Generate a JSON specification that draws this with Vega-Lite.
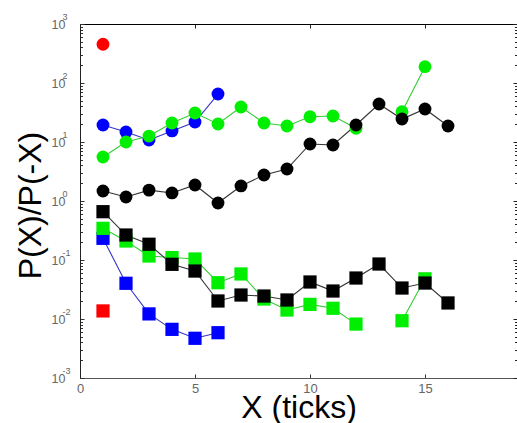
{
  "$schema": "https://vega.github.io/schema/vega-lite/v6.json",
  "autosize": {"type": "none"},
  "padding": {"left": 80, "top": 24, "right": 0, "bottom": 45},
  "width": 437,
  "height": 354,
  "background": "white",
  "config": {
    "font": "Liberation Sans",
    "view": {"stroke": null},
    "axis": {"grid": false, "labelFont": "Liberation Sans", "titleFont": "Liberation Sans", "titleFontWeight": "normal", "titleColor": "black", "labelColor": "#666666"}
  },
  "data": {
    "values": [
      {"x": 1, "y": 453, "series": "red", "marker": "circle"},
      {"x": 1, "y": 0.0137, "series": "red", "marker": "square"},
      {"x": 1, "y": 19.4, "series": "blue", "marker": "circle"},
      {"x": 2, "y": 14.8, "series": "blue", "marker": "circle"},
      {"x": 3, "y": 10.8, "series": "blue", "marker": "circle"},
      {"x": 4, "y": 15.4, "series": "blue", "marker": "circle"},
      {"x": 5, "y": 21.8, "series": "blue", "marker": "circle"},
      {"x": 6, "y": 65, "series": "blue", "marker": "circle"},
      {"x": 1, "y": 0.233, "series": "blue", "marker": "square"},
      {"x": 2, "y": 0.0403, "series": "blue", "marker": "square"},
      {"x": 3, "y": 0.0122, "series": "blue", "marker": "square"},
      {"x": 4, "y": 0.00668, "series": "blue", "marker": "square"},
      {"x": 5, "y": 0.00471, "series": "blue", "marker": "square"},
      {"x": 6, "y": 0.00586, "series": "blue", "marker": "square"},
      {"x": 1, "y": 5.57, "series": "green", "marker": "circle"},
      {"x": 2, "y": 10, "series": "green", "marker": "circle"},
      {"x": 3, "y": 12.6, "series": "green", "marker": "circle"},
      {"x": 4, "y": 21, "series": "green", "marker": "circle"},
      {"x": 5, "y": 31, "series": "green", "marker": "circle"},
      {"x": 6, "y": 20.2, "series": "green", "marker": "circle"},
      {"x": 7, "y": 39.2, "series": "green", "marker": "circle"},
      {"x": 8, "y": 21, "series": "green", "marker": "circle"},
      {"x": 9, "y": 18.7, "series": "green", "marker": "circle"},
      {"x": 10, "y": 26.8, "series": "green", "marker": "circle"},
      {"x": 11, "y": 27.6, "series": "green", "marker": "circle"},
      {"x": 12, "y": 17.1, "series": "green", "marker": "circle"},
      {"x": 13, "y": null, "series": "green", "marker": "circle"},
      {"x": 14, "y": 32.6, "series": "green", "marker": "circle"},
      {"x": 15, "y": 189, "series": "green", "marker": "circle"},
      {"x": 1, "y": 0.344, "series": "green", "marker": "square"},
      {"x": 2, "y": 0.21, "series": "green", "marker": "square"},
      {"x": 3, "y": 0.117, "series": "green", "marker": "square"},
      {"x": 4, "y": 0.11, "series": "green", "marker": "square"},
      {"x": 5, "y": 0.104, "series": "green", "marker": "square"},
      {"x": 6, "y": 0.0412, "series": "green", "marker": "square"},
      {"x": 7, "y": 0.058, "series": "green", "marker": "square"},
      {"x": 8, "y": 0.0218, "series": "green", "marker": "square"},
      {"x": 9, "y": 0.0142, "series": "green", "marker": "square"},
      {"x": 10, "y": 0.0177, "series": "green", "marker": "square"},
      {"x": 11, "y": 0.0152, "series": "green", "marker": "square"},
      {"x": 12, "y": 0.0082, "series": "green", "marker": "square"},
      {"x": 13, "y": null, "series": "green", "marker": "square"},
      {"x": 14, "y": 0.00935, "series": "green", "marker": "square"},
      {"x": 15, "y": 0.048, "series": "green", "marker": "square"},
      {"x": 1, "y": 1.48, "series": "black", "marker": "circle"},
      {"x": 2, "y": 1.17, "series": "black", "marker": "circle"},
      {"x": 3, "y": 1.53, "series": "black", "marker": "circle"},
      {"x": 4, "y": 1.37, "series": "black", "marker": "circle"},
      {"x": 5, "y": 1.87, "series": "black", "marker": "circle"},
      {"x": 6, "y": 0.925, "series": "black", "marker": "circle"},
      {"x": 7, "y": 1.8, "series": "black", "marker": "circle"},
      {"x": 8, "y": 2.76, "series": "black", "marker": "circle"},
      {"x": 9, "y": 3.48, "series": "black", "marker": "circle"},
      {"x": 10, "y": 9.25, "series": "black", "marker": "circle"},
      {"x": 11, "y": 8.9, "series": "black", "marker": "circle"},
      {"x": 12, "y": 19.4, "series": "black", "marker": "circle"},
      {"x": 13, "y": 44, "series": "black", "marker": "circle"},
      {"x": 14, "y": 24.5, "series": "black", "marker": "circle"},
      {"x": 15, "y": 36.3, "series": "black", "marker": "circle"},
      {"x": 16, "y": 18.7, "series": "black", "marker": "circle"},
      {"x": 1, "y": 0.659, "series": "black", "marker": "square"},
      {"x": 2, "y": 0.265, "series": "black", "marker": "square"},
      {"x": 3, "y": 0.185, "series": "black", "marker": "square"},
      {"x": 4, "y": 0.0845, "series": "black", "marker": "square"},
      {"x": 5, "y": 0.065, "series": "black", "marker": "square"},
      {"x": 6, "y": 0.0202, "series": "black", "marker": "square"},
      {"x": 7, "y": 0.0255, "series": "black", "marker": "square"},
      {"x": 8, "y": 0.0245, "series": "black", "marker": "square"},
      {"x": 9, "y": 0.021, "series": "black", "marker": "square"},
      {"x": 10, "y": 0.0424, "series": "black", "marker": "square"},
      {"x": 11, "y": 0.0298, "series": "black", "marker": "square"},
      {"x": 12, "y": 0.0495, "series": "black", "marker": "square"},
      {"x": 13, "y": 0.0855, "series": "black", "marker": "square"},
      {"x": 14, "y": 0.0335, "series": "black", "marker": "square"},
      {"x": 15, "y": 0.0407, "series": "black", "marker": "square"},
      {"x": 16, "y": 0.0187, "series": "black", "marker": "square"}
    ]
  },
  "resolve": {"axis": {"x": "independent", "y": "independent"}, "scale": {"color": "independent"}},
  "layer": [
    {
      "mark": {"type": "line", "strokeWidth": 1.1, "invalid": "break-paths-filter-domains"},
      "encoding": {
        "x": {
          "field": "x", "type": "quantitative",
          "scale": {"domain": [0, 19], "nice": false, "zero": false},
          "axis": {
            "orient": "bottom", "values": [0, 5, 10, 15], "format": "d",
            "tickSize": -4, "tickColor": "#333333", "domainColor": "#555555",
            "labelFontSize": 13, "labelPadding": 8, "labelFlush": false,
            "title": "X (ticks)", "titleFontSize": 32, "titleY": 39, "titleBaseline": "alphabetic"
          }
        },
        "y": {
          "field": "y", "type": "quantitative",
          "scale": {"type": "log", "domain": [0.001, 1000], "nice": false},
          "axis": {
            "orient": "left",
            "values": [0.001, 0.002, 0.003, 0.004, 0.005, 0.006, 0.007, 0.008, 0.009, 0.01, 0.02, 0.03, 0.04, 0.05, 0.06, 0.07, 0.08, 0.09, 0.1, 0.2, 0.3, 0.4, 0.5, 0.6, 0.7, 0.8, 0.9, 1, 2, 3, 4, 5, 6, 7, 8, 9, 10, 20, 30, 40, 50, 60, 70, 80, 90, 100, 200, 300, 400, 500, 600, 700, 800, 900, 1000],
            "tickSize": {"condition": {"test": "indexof([0.001, 0.01, 0.1, 1, 10, 100, 1000], datum.value) >= 0", "value": -4}, "value": -2.5},
            "tickColor": "#333333", "domainColor": "#222222",
            "labelExpr": "indexof([0.001, 0.01, 0.1, 1, 10, 100, 1000], datum.value) >= 0 ? '10' : ''",
            "labelFontSize": 12.5, "labelPadding": 19, "labelFlush": false, "labelOverlap": false,
            "title": "P(X)/P(-X)", "titleFontSize": 32, "titleX": -40, "titleY": 181, "titleAlign": "center", "titleBaseline": "alphabetic", "titleAngle": -90
          }
        },
        "color": {
          "field": "series", "type": "nominal", "legend": null,
          "scale": {"domain": ["red", "blue", "green", "black"], "range": ["#ff0000", "#3535c8", "#33cc33", "#333333"]}
        },
        "detail": {"field": "marker", "type": "nominal"}
      }
    },
    {
      "transform": [{"filter": "datum.marker == 'circle'"}],
      "mark": {"type": "point", "shape": "circle", "filled": true, "opacity": 1, "size": 165, "invalid": "filter"},
      "encoding": {
        "x": {
          "field": "x", "type": "quantitative",
          "axis": {"orient": "top", "values": [0, 5, 10, 15], "labels": false, "title": null, "tickSize": -4, "tickColor": "#222222", "domainColor": "#000000"}
        },
        "y": {
          "field": "y", "type": "quantitative",
          "axis": {
            "orient": "left", "title": null, "ticks": false, "domain": false,
            "values": [0.001, 0.01, 0.1, 1, 10, 100, 1000],
            "labelExpr": "datum.value == 1000 ? '3' : datum.value == 100 ? '2' : datum.value == 10 ? '1' : datum.value == 1 ? '0' : datum.value == 0.1 ? '-1' : datum.value == 0.01 ? '-2' : '-3'",
            "labelFontSize": 9, "labelAlign": "left", "labelPadding": 18, "labelOffset": -8, "labelFlush": false, "labelOverlap": false
          }
        },
        "color": {
          "field": "series", "type": "nominal", "legend": null,
          "scale": {"domain": ["red", "blue", "green", "black"], "range": ["#ff0000", "#0000ff", "#00ee00", "#000000"]}
        }
      }
    },
    {
      "transform": [{"filter": "datum.marker == 'square'"}],
      "mark": {"type": "point", "shape": "square", "filled": true, "opacity": 1, "size": 175, "invalid": "filter"},
      "encoding": {
        "x": {"field": "x", "type": "quantitative", "axis": null},
        "y": {
          "field": "y", "type": "quantitative",
          "axis": {
            "orient": "right", "labels": false, "title": null,
            "values": [0.001, 0.002, 0.003, 0.004, 0.005, 0.006, 0.007, 0.008, 0.009, 0.01, 0.02, 0.03, 0.04, 0.05, 0.06, 0.07, 0.08, 0.09, 0.1, 0.2, 0.3, 0.4, 0.5, 0.6, 0.7, 0.8, 0.9, 1, 2, 3, 4, 5, 6, 7, 8, 9, 10, 20, 30, 40, 50, 60, 70, 80, 90, 100, 200, 300, 400, 500, 600, 700, 800, 900, 1000],
            "tickSize": {"condition": {"test": "indexof([0.001, 0.01, 0.1, 1, 10, 100, 1000], datum.value) >= 0", "value": -4}, "value": -2.5},
            "tickColor": "#222222", "domainColor": "#000000"
          }
        },
        "color": {
          "field": "series", "type": "nominal", "legend": null,
          "scale": {"domain": ["red", "blue", "green", "black"], "range": ["#ff0000", "#0000ff", "#00ee00", "#000000"]}
        }
      }
    }
  ]
}
